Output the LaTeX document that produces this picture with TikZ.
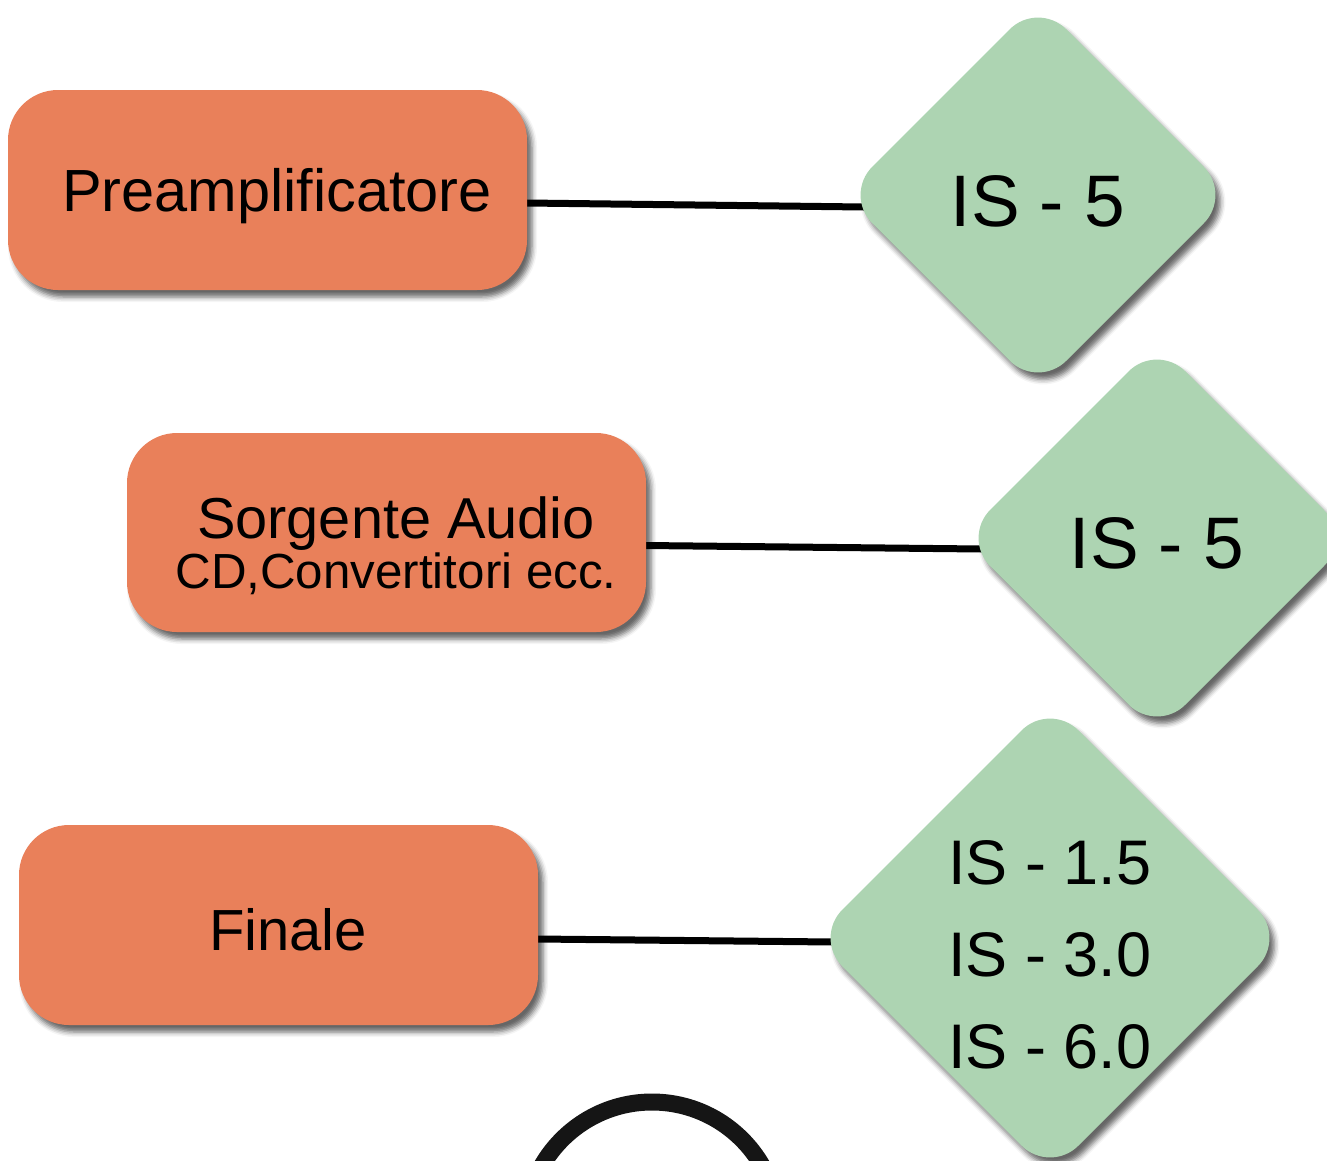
\documentclass[tikz,border=0pt]{standalone}
\usepackage{fontspec}
\setmainfont{Liberation Sans}
\usetikzlibrary{shapes.geometric,shadows.blur}
\pgfdeclarelayer{background}
\pgfsetlayers{background,main}
\definecolor{boxorange}{HTML}{E9805A}
\definecolor{diagreen}{HTML}{ADD4B2}
\definecolor{ringblack}{HTML}{151515}
\tikzset{
  softshadow/.style={blur shadow={shadow xshift=5pt, shadow yshift=-7pt, shadow blur radius=5pt, shadow opacity=60}},
  srcbox/.style={rectangle, rounded corners=50pt, fill=boxorange, inner sep=0pt, outer sep=0pt,
    minimum width=519pt, minimum height=200pt, softshadow},
  valdiamond/.style={diamond, rounded corners=40pt, fill=diagreen, inner sep=0pt, outer sep=0pt, softshadow},
  link/.style={line width=7pt, black},
}
\begin{document}
\begin{tikzpicture}[x=1pt,y=-1pt]
\useasboundingbox (0,0) rectangle (1327,1160);
% orange boxes
\node[srcbox, font=\fontsize{59.5}{60}\selectfont, text height=42pt, text depth=0pt] (p1) at (267.5,190) {\hspace*{19pt}Preamplificatore};
\node[srcbox, minimum height=199pt, align=center, font=\fontsize{49.3}{50}\selectfont, text height=111pt, text depth=0pt] (p2) at (386.5,532.5)
  {\hspace*{19pt}{\fontsize{57.7}{50}\selectfont Sorgente Audio}\\\hspace*{19pt}CD,Convertitori ecc.};
\node[srcbox, font=\fontsize{58}{60}\selectfont, text height=50pt, text depth=0pt] (p3) at (278.5,925) {\hspace*{19pt}Finale};
% green diamonds
\node[valdiamond, minimum width=388pt, minimum height=388pt, font=\fontsize{73}{80}\selectfont, text height=63pt, text depth=0pt] (d1) at (1038,195) {IS - 5};
\node[valdiamond, minimum width=390pt, minimum height=390pt, font=\fontsize{73}{80}\selectfont, text height=61pt, text depth=0pt] (d2) at (1157,538) {IS - 5};
\node[valdiamond, minimum width=472pt, minimum height=472pt, align=center, font=\fontsize{63}{92}\selectfont, text height=260pt, text depth=0pt] (d3) at (1050,938) {IS - 1.5\\IS - 3.0\\IS - 6.0};
% ring at the bottom
\node[circle, draw=ringblack, line width=17pt, minimum size=254pt, inner sep=0pt] (ring) at (652,1229) {};
% connectors
\begin{pgfonlayer}{background}
\draw[link] ([yshift=-13pt]p1.east) -- ([xshift=20pt,yshift=-12pt]d1.west);
\draw[link] ([yshift=-13pt]p2.east) -- ([xshift=20pt,yshift=-11pt]d2.west);
\draw[link] ([yshift=-14pt]p3.east) -- ([xshift=20pt,yshift=-4pt]d3.west);
\end{pgfonlayer}
\end{tikzpicture}
\end{document}
